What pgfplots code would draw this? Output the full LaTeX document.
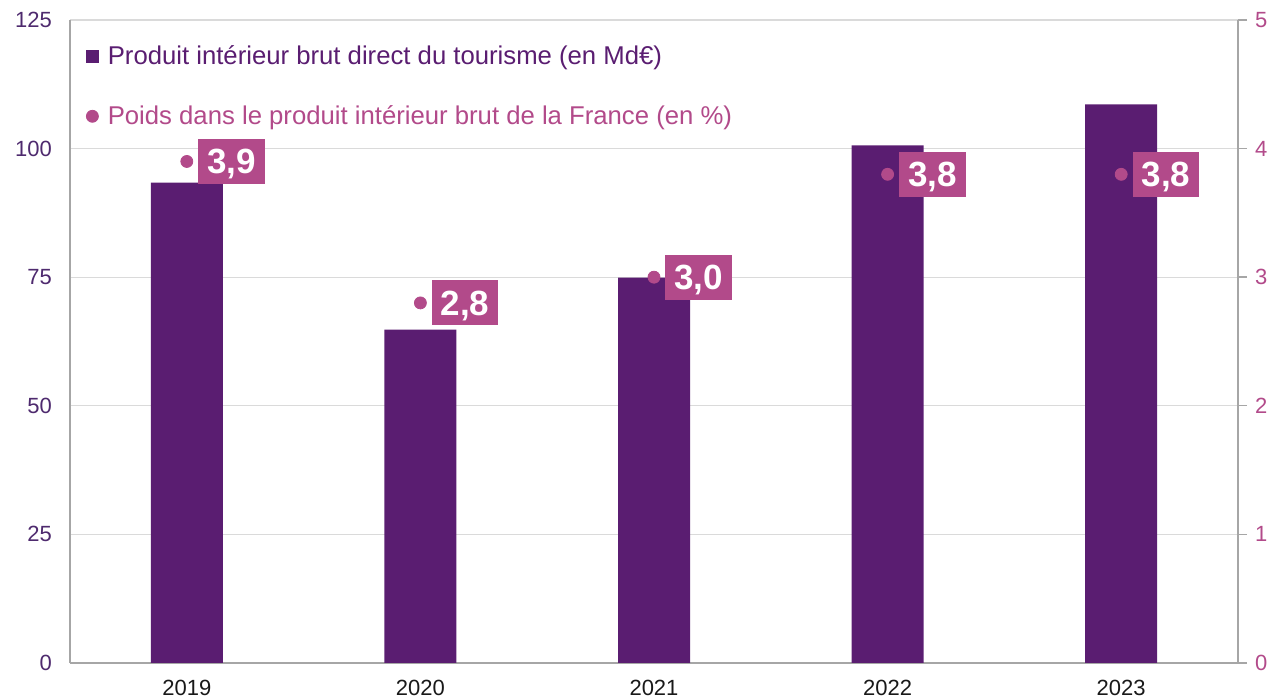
\documentclass[border=0pt]{standalone}
\usepackage{pgfplots}
\pgfplotsset{compat=1.18}
\usepackage{fontspec}
\setmainfont{Liberation Sans}

\definecolor{barpurple}{HTML}{5A1D71}
\definecolor{ptpink}{HTML}{B24A8A}
\definecolor{leftlab}{HTML}{4E2A6E}
\definecolor{axgray}{HTML}{A6A6A6}
\definecolor{gridgray}{HTML}{DADADA}

\pgfplotsset{
  base/.style={
    scale only axis, width=584pt, height=321.5pt,
    at={(0pt,0pt)}, anchor=south west,
    xmin=-0.5, xmax=4.5,
    /pgf/number format/assume math mode=true,
    axis line style={axgray, line width=0.7pt, -},
    tick style={axgray, line width=0.7pt},
    ticklabel style={font=\fontsize{11}{12}\selectfont},
  },
}

\begin{document}
\begin{tikzpicture}
% left axis: bars
\begin{axis}[base,
  ymin=0, ymax=125, ytick={0,25,...,125},
  axis x line*=bottom, axis y line*=left,
  ymajorgrids, grid style={gridgray, line width=0.6pt},
  xtick={0,...,4}, xticklabels={2019,2020,2021,2022,2023},
  major tick length=0pt,
  xticklabel style={anchor=base, yshift=-16.5pt, text=black!90},
  yticklabel style={text=leftlab, xshift=-5.5pt},
]
\addplot[ybar, bar width=36pt, fill=barpurple, draw=none] coordinates {
  (0,93.4) (1,64.8) (2,74.9) (3,100.6) (4,108.6)
};
\end{axis}
% right axis: share in GDP
\begin{axis}[base,
  ymin=0, ymax=5, ytick={0,...,5},
  axis x line=none, axis y line*=right,
  xtick=\empty,
  tick align=outside, major tick length=4.5pt,
  yticklabel style={text=ptpink, anchor=west, xshift=0.5pt},
  legend style={at={(0,1)}, anchor=north west, xshift=5pt, yshift=-8.5pt,
    draw=none, fill=none, font=\fontsize{12.85}{14}\selectfont,
    row sep=15pt, cells={anchor=west}},
  legend cell align=left,
  legend image code/.code={\draw[#1] plot coordinates {(0pt,0pt)}; \path (5.5pt,0pt);},
]
\addlegendimage{only marks, mark=square*, mark size=3pt, color=barpurple}
\addlegendentry{\textcolor{barpurple}{Produit intérieur brut direct du tourisme (en Md€)}}
\addplot[only marks, mark=*, mark size=3pt, color=ptpink,
  nodes near coords, point meta=y,
  nodes near coords style={anchor=west, xshift=5.5pt, fill=ptpink, text=white,
    font=\bfseries\fontsize{17.5}{20}\selectfont,
    inner xsep=4.5pt, inner ysep=5pt, text height=12.5pt, text depth=0pt,
    /pgf/number format/.cd, use comma, fixed, fixed zerofill, precision=1},
] coordinates {
  (0,3.9) (1,2.8) (2,3.0) (3,3.8) (4,3.8)
};
\addlegendentry{\textcolor{ptpink}{Poids dans le produit intérieur brut de la France (en \%)}}
\end{axis}
\pgfresetboundingbox
\useasboundingbox (-35pt,-18pt) rectangle (600pt,331.5pt);
\end{tikzpicture}
\end{document}
